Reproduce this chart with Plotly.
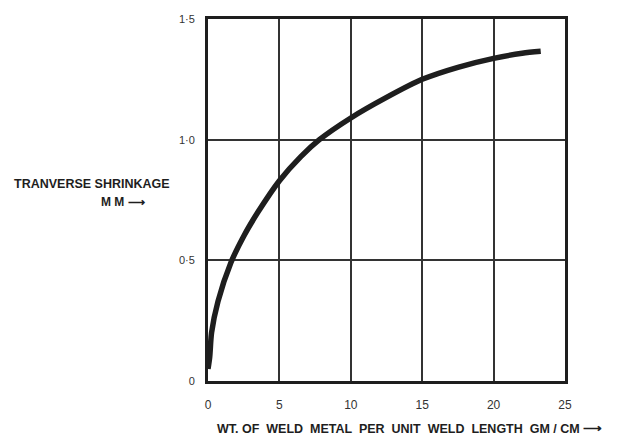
import plotly.graph_objects as go

weight = [0, 0.12, 0.25, 0.7, 1.6, 2.5, 3.5, 5, 6.5, 7.8, 10, 12.5, 15, 17.5, 20, 22, 23.3]
shrink = [0.05, 0.1, 0.2, 0.33, 0.49, 0.6, 0.7, 0.83, 0.93, 1.0, 1.09, 1.175, 1.25, 1.3, 1.337, 1.358, 1.366]

x_ticks = [0, 5, 10, 15, 20, 25]
x_tick_labels = ["0", "5", "10", "15", "20", "25"]
y_ticks = [0, 0.5, 1.0, 1.5]
y_tick_labels = ["0", "0·5", "1·0", "1·5"]

ink = "#1e1e1e"
font = "Liberation Sans"

fig = go.Figure()
fig.add_trace(go.Scatter(
    x=weight, y=shrink, mode="lines",
    line=dict(color=ink, width=5.5, shape="spline", smoothing=0.8),
    hoverinfo="skip", showlegend=False,
))

fig.update_layout(
    width=630, height=439,
    margin=dict(l=200, r=73, t=5, b=66),
    paper_bgcolor="white", plot_bgcolor="white",
    font=dict(family=font, color=ink, size=10),
    xaxis=dict(
        range=[0, 25], tickvals=x_ticks, ticktext=x_tick_labels,
        showgrid=True, gridcolor="#333333", gridwidth=1.5,
        showline=True, linecolor=ink, linewidth=3, mirror=True,
        ticks="", zeroline=False, tickfont=dict(size=12, family=font, color="#333"),
        ticklabelstandoff=11,
    ),
    yaxis=dict(
        range=[0, 1.5], tickvals=y_ticks, ticktext=y_tick_labels,
        showgrid=True, gridcolor="#333333", gridwidth=1.5,
        showline=True, linecolor=ink, linewidth=3, mirror=True,
        ticks="", zeroline=False, tickfont=dict(size=11, family=font, color="#333"),
        ticklabelstandoff=8,
    ),
    annotations=[
        dict(text="<b>TRANVERSE SHRINKAGE</b>", xref="paper", yref="paper",
             x=-0.1, y=0.545, xanchor="right", yanchor="middle", showarrow=False,
             font=dict(size=12.5, family=font, color=ink)),
        dict(text="<b>M M ⟶</b>", xref="paper", yref="paper",
             x=-0.17, y=0.495, xanchor="right", yanchor="middle", showarrow=False,
             font=dict(size=12, family=font, color=ink)),
        dict(text="<b>WT. OF  WELD  METAL  PER  UNIT  WELD  LENGTH  GM / CM ⟶</b>",
             xref="paper", yref="paper", x=0.02, y=-0.133, xanchor="left", yanchor="middle",
             showarrow=False, font=dict(size=12.5, family=font, color=ink)),
    ],
)

fig.write_html("out.html")
